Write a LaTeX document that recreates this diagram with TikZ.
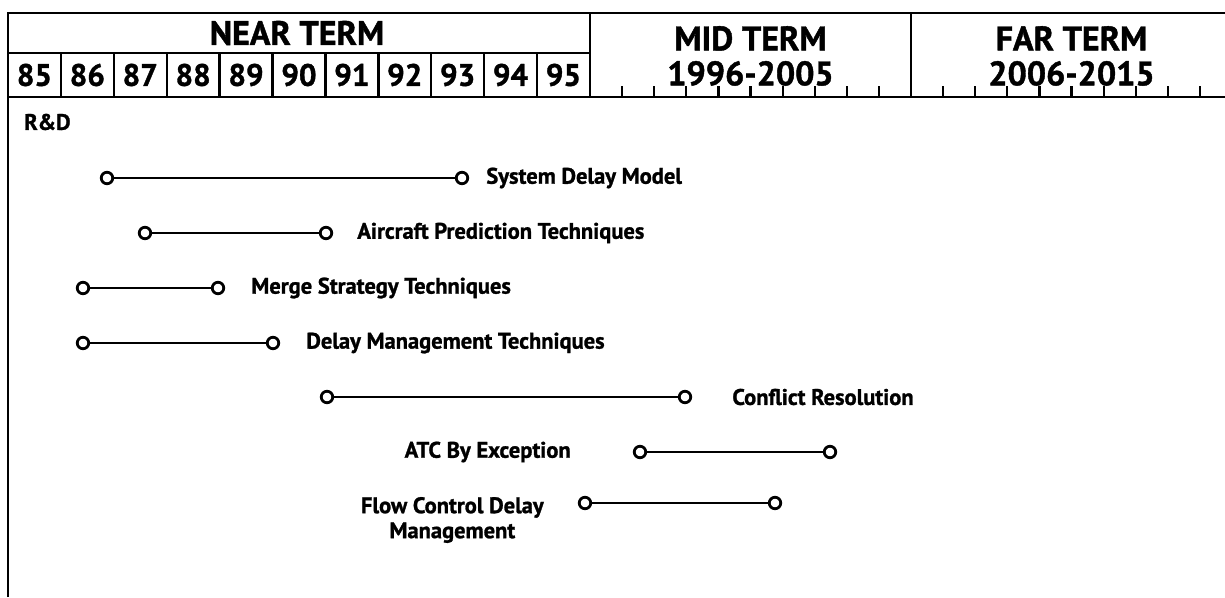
\documentclass[tikz,border=0pt]{standalone}
\usepackage{fontspec}
\setmainfont{PT Sans}[BoldFeatures={FakeBold=1.2}]
\usetikzlibrary{positioning}

\tikzset{
  cell/.style={draw, line width=2.4pt, minimum width=52.9pt, minimum height=44pt, inner sep=0pt, font=\bfseries\fontsize{31}{35}\selectfont},
  term/.style={inner sep=0pt, align=center, font=\bfseries\fontsize{34}{35}\selectfont},
  milestone/.style={draw, circle, line width=2.8pt, inner sep=0pt, minimum size=11.5pt},
  track/.style={line width=2.5pt},
  task/.style={inner sep=0pt, font=\bfseries\fontsize{22.5}{25}\selectfont},
}

\begin{document}
\begin{tikzpicture}[x=1pt, y=-1pt]
	\useasboundingbox (0,0) rectangle (1225,597);

	% Frame
	\begin{scope}[line width=2.6pt]
		\draw (8,597) -- (8,13) -- (1225,13);
		\draw (8,97) -- (1225,97);
		\draw (8,53) -- (590,53);
		\draw (590,13) -- (590,97);
		\draw (911,13) -- (911,97);
	\end{scope}

	% Near term
	\begin{scope}
		\node (near_title) at (297,33) [term] {NEAR TERM};
		\node (y85) at (34.45,75) [cell] {85};
		\node (y86) at (87.35,75) [cell] {86};
		\node (y87) at (140.25,75) [cell] {87};
		\node (y88) at (193.15,75) [cell] {88};
		\node (y89) at (246.05,75) [cell] {89};
		\node (y90) at (298.95,75) [cell] {90};
		\node (y91) at (351.85,75) [cell] {91};
		\node (y92) at (404.75,75) [cell] {92};
		\node (y93) at (457.65,75) [cell] {93};
		\node (y94) at (510.55,75) [cell] {94};
		\node (y95) at (563.45,75) [cell] {95};
	\end{scope}

	% Mid term and far term
	\begin{scope}
		\node (mid_title) at (750.5,56) [term] {MID TERM\\1996-2005};
		\node (far_title) at (1071.5,56) [term] {FAR TERM\\2006-2015};
		\foreach \i in {1,...,9} {
			\draw[line width=2.2pt] ({590+32.1*\i},97) -- ({590+32.1*\i},86);
			\draw[line width=2.2pt] ({911+32.1*\i},97) -- ({911+32.1*\i},86);
		}
	\end{scope}

	% R&D
	\node (rd) at (24,122) [task, anchor=west] {R\&D};

	\begin{scope}
		\node (sdm_start) at (107,178) [milestone] {};
		\node (sdm_end) at (462,178) [milestone] {};
		\node (sdm) [task, right = 17pt of sdm_end] {System Delay Model};
		\draw[track] (sdm_start) -- (sdm_end);

		\node (acp_start) at (145,233) [milestone] {};
		\node (acp_end) at (326,233) [milestone] {};
		\node (acp) [task, right = 24pt of acp_end] {Aircraft Prediction Techniques};
		\draw[track] (acp_start) -- (acp_end);

		\node (merge_start) at (83,288) [milestone] {};
		\node (merge_end) at (218,288) [milestone] {};
		\node (merge) [task, right = 26pt of merge_end] {Merge Strategy Techniques};
		\draw[track] (merge_start) -- (merge_end);

		\node (dmt_start) at (83,343) [milestone] {};
		\node (dmt_end) at (273,343) [milestone] {};
		\node (dmt) [task, right = 26pt of dmt_end] {Delay Management Techniques};
		\draw[track] (dmt_start) -- (dmt_end);

		\node (conf_start) at (327,397) [milestone] {};
		\node (conf_end) at (685,397) [milestone] {};
		\node (conf) [task, right = 40pt of conf_end] {Conflict Resolution};
		\draw[track] (conf_start) -- (conf_end);

		\node (atc_start) at (640,452) [milestone] {};
		\node (atc_end) at (830,452) [milestone] {};
		\node (atc) [task, left = 62pt of atc_start] {ATC By Exception};
		\draw[track] (atc_start) -- (atc_end);

		\node (flow_start) at (585,503) [milestone] {};
		\node (flow_end) at (775,503) [milestone] {};
		\node (flow) [task, align=center, left = 34pt of flow_start, yshift=-17pt] {Flow Control Delay\\Management};
		\draw[track] (flow_start) -- (flow_end);
	\end{scope}

\end{tikzpicture}
\end{document}
